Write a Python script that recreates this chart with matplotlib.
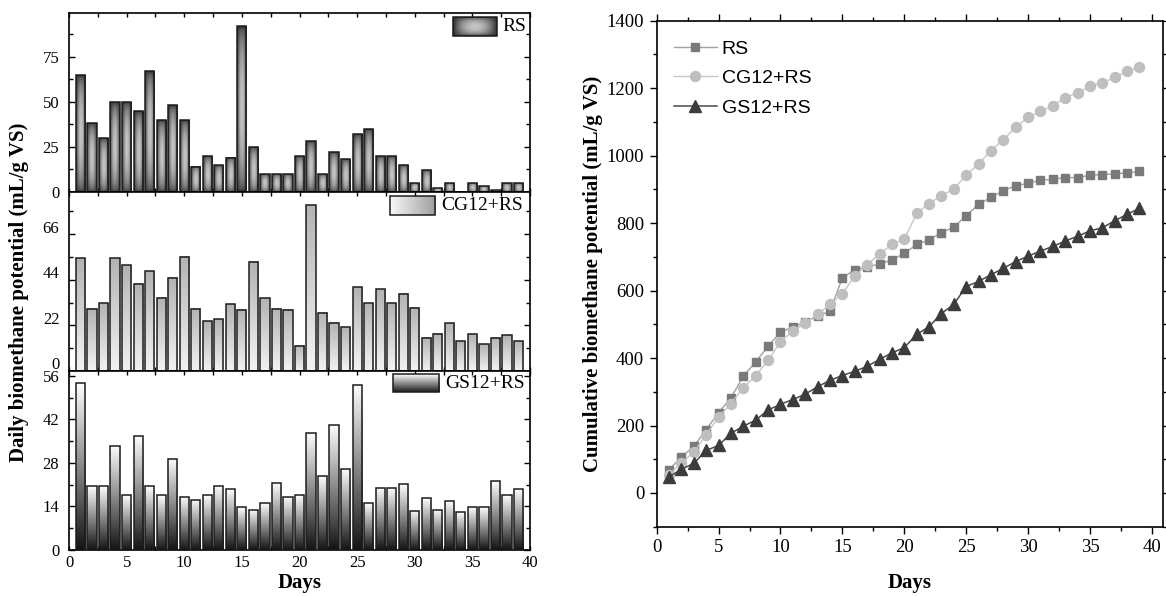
import numpy as np
import matplotlib
matplotlib.use("Agg")
import matplotlib.pyplot as plt
from matplotlib.image import BboxImage
from matplotlib.transforms import Bbox, TransformedBbox, ScaledTranslation
from matplotlib.patches import Rectangle
from matplotlib.ticker import MultipleLocator, FixedLocator

plt.rcParams['font.family'] = ['Liberation Serif', 'DejaVu Serif']

days = list(range(1, 40))

# daily biomethane potential (mL/g VS)
rs_daily = [65, 38, 30, 50, 50, 45, 67, 40, 48, 40,
            14, 20, 15, 19, 92, 25, 10, 10, 10, 20,
            28, 10, 22, 18, 32, 35, 20, 20, 15, 5,
            12, 2, 5, 0, 5, 3, 1, 5, 5]
cg_daily = [54.3, 30.1, 32.7, 54.3, 51.0, 42.2, 48.1, 35.3, 45.1, 55.2,
            30.1, 24.0, 25.1, 32.2, 29.6, 52.7, 35.1, 30.1, 29.6, 12.1,
            80.0, 28.2, 23.2, 21.1, 40.3, 32.7, 39.6, 32.7, 37.2, 30.6,
            16.1, 18.0, 23.0, 14.2, 17.6, 13.0, 16.1, 17.1, 14.2]
gs_daily = [53.6, 20.5, 20.5, 33.6, 17.6, 36.6, 20.5, 17.6, 29.3, 17.1,
            16.2, 17.6, 20.5, 19.6, 13.7, 13.0, 15.1, 21.5, 17.1, 17.6,
            37.7, 23.7, 40.2, 26.2, 53.1, 15.1, 20.1, 20.1, 21.1, 12.7,
            16.7, 13.0, 15.6, 12.1, 13.7, 13.7, 22.1, 17.6, 19.6]

# cumulative biomethane potential (mL/g VS)
rs_cum = [69, 107, 138, 188, 238, 282, 346, 389, 435, 477,
          492, 507, 524, 539, 638, 661, 671, 678, 691, 710,
          737, 750, 772, 788, 822, 856, 876, 896, 911, 918,
          927, 930, 935, 935, 942, 944, 946, 949, 953]
cg_cum = [54, 89, 121, 173, 225, 265, 312, 348, 393, 448,
          480, 503, 530, 559, 591, 643, 677, 708, 737, 752,
          829, 858, 881, 901, 942, 975, 1015, 1047, 1084, 1114,
          1131, 1148, 1172, 1186, 1206, 1216, 1232, 1250, 1262]
gs_cum = [48, 70, 88, 126, 141, 177, 198, 216, 246, 263,
          277, 293, 315, 334, 348, 361, 375, 396, 415, 431,
          470, 493, 532, 559, 612, 627, 647, 666, 686, 702,
          717, 731, 747, 761, 777, 786, 807, 826, 844]

series_names = ["RS", "CG12+RS", "GS12+RS"]


# ---- gradient fills -------------------------------------------------------
def box_fill(nx=32, ny=96):
    u = np.linspace(0, 1, nx)
    v = np.linspace(0, 1, ny)
    h = np.sin(np.pi * u) ** 0.8
    k = np.sin(np.pi * v) ** 0.45
    return 0.17 + 0.6 * np.outer(k, h)


def vertical_fill(top, bottom, ny=96):
    col = np.linspace(top, bottom, ny)[:, None]
    return np.repeat(col, 2, axis=1)


def horizontal_fill(left, right, nx=64):
    row = np.linspace(left, right, nx)[None, :]
    return np.repeat(row, 2, axis=0)


def paint(ax, bbox, transform, data, zorder=2):
    img = BboxImage(TransformedBbox(bbox, transform), cmap="gray",
                    norm=plt.Normalize(0, 1), interpolation="bilinear",
                    origin="upper", zorder=zorder)
    img.set_data(data)
    ax.add_artist(img)


fig = plt.figure(figsize=(11.66, 5.96), dpi=100)
W, H = 1166.0, 596.0

# ---- left: three stacked daily bar panels ----------------------------------
left_x0, left_x1 = 69.0, 530.0
top_px, bot_px = 12.7, 550.0
ph = (bot_px - top_px) / 3.0

panel_cfg = [
    (rs_daily, 99.5, 25, 12.5, box_fill(), box_fill(64, 24)),
    (cg_daily, 86.5, 22, 11, vertical_fill(0.70, 0.95), horizontal_fill(0.97, 0.62)),
    (gs_daily, 57.6, 14, 7, vertical_fill(0.99, 0.08), vertical_fill(0.99, 0.12, 32)),
]
legend_boxes = [
    (0.833, 0.870, 0.928, 0.976, 0.941),
    (0.696, 0.870, 0.794, 0.976, 0.808),
    (0.703, 0.881, 0.803, 0.981, 0.816),
]

axes_left = []
for i, (vals, ytop, major, minor, fill, leg_fill) in enumerate(panel_cfg):
    ax_top = top_px + i * ph
    ax = fig.add_axes([left_x0 / W, 1 - (ax_top + ph) / H,
                       (left_x1 - left_x0) / W, ph / H])
    axes_left.append(ax)
    bars = ax.bar(days, vals, width=0.8, facecolor="none",
                  edgecolor="#1c1c1c", linewidth=1.1, zorder=3)
    for b in bars:
        if b.get_height() > 0:
            paint(ax, b.get_bbox(), ax.transData, fill)
    # legend swatch + label
    lx0, ly0, lx1, ly1, tx = legend_boxes[i]
    paint(ax, Bbox.from_extents(lx0, ly0, lx1, ly1), ax.transAxes, leg_fill, zorder=4)
    ax.add_patch(Rectangle((lx0, ly0), lx1 - lx0, ly1 - ly0, transform=ax.transAxes,
                           facecolor="none", edgecolor="#1c1c1c", linewidth=1.1, zorder=5))
    ax.text(tx, (ly0 + ly1) / 2, series_names[i], transform=ax.transAxes,
            ha="left", va="center", fontsize=14, zorder=5)

    ax.set_xlim(0, 40)
    ax.set_ylim(0, ytop)
    ax.xaxis.set_major_locator(MultipleLocator(5))
    ax.xaxis.set_minor_locator(MultipleLocator(2.5))
    ax.yaxis.set_major_locator(FixedLocator(np.arange(0, ytop, major)))
    ax.yaxis.set_minor_locator(FixedLocator(np.arange(0, ytop, minor)))
    ax.tick_params(which="both", direction="in", top=True, right=True,
                   labelsize=12, width=1.0, pad=7)
    ax.tick_params(axis="y", which="major", length=4.3)
    ax.tick_params(axis="y", which="minor", length=3.0)
    ax.tick_params(axis="x", which="both", length=3.0, pad=3.5)
    for s in ax.spines.values():
        s.set_linewidth(1.2)
    if i < 2:
        ax.tick_params(axis="x", labelbottom=False)

ax_rs, ax_cg, ax_gs = axes_left
off = ScaledTranslation(0, 7.5 / 100, fig.dpi_scale_trans)
for lab in ax_cg.get_yticklabels():
    lab.set_transform(lab.get_transform() + off)

ax_gs.set_xlabel("Days", fontsize=15, fontweight="bold")
ax_gs.xaxis.set_label_coords(0.5, (bot_px - 588) / ph)
ax_gs.xaxis.label.set_va("baseline")

ax_cg.set_ylabel("Daily biomethane potential (mL/g VS)", fontsize=15, fontweight="bold")
ax_cg.yaxis.label.set_va("center")
ax_cg.yaxis.set_label_coords((19 - left_x0) / (left_x1 - left_x0),
                             (top_px + 2 * ph - 292) / ph)

# ---- right: cumulative curves ----------------------------------------------
rx0, rx1, ry0, ry1 = 656.7, 1163.0, 20.7, 526.7
axr = fig.add_axes([rx0 / W, 1 - ry1 / H, (rx1 - rx0) / W, (ry1 - ry0) / H])
axr.plot(days, rs_cum, color="#a0a0a0", lw=1.0, marker="s", ms=6,
         mfc="#7a7a7a", mec="#7a7a7a", label=series_names[0], zorder=3)
axr.plot(days, cg_cum, color="#c6c6c6", lw=1.0, marker="o", ms=7.2,
         mfc="#bfbfbf", mec="#bfbfbf", label=series_names[1], zorder=4)
axr.plot(days, gs_cum, color="#4a4a4a", lw=1.1, marker="^", ms=8.4,
         mfc="#3c3c3c", mec="#3c3c3c", label=series_names[2], zorder=5)
axr.set_xlim(0, 40.9)
axr.set_ylim(-100, 1400)
axr.xaxis.set_major_locator(MultipleLocator(5))
axr.xaxis.set_minor_locator(MultipleLocator(2.5))
axr.yaxis.set_major_locator(MultipleLocator(200))
axr.yaxis.set_minor_locator(MultipleLocator(100))
axr.tick_params(which="both", direction="out", top=True, right=True,
                labelsize=13.5, width=1.0)
axr.tick_params(which="major", length=5.0, pad=4)
axr.tick_params(which="minor", length=3.2)
for s in axr.spines.values():
    s.set_linewidth(1.2)

axr.set_xlabel("Days", fontsize=15, fontweight="bold")
axr.xaxis.set_label_coords(0.5, (ry1 - 588) / (ry1 - ry0))
axr.xaxis.label.set_va("baseline")
axr.set_ylabel("Cumulative biomethane potential (mL/g VS)", fontsize=15, fontweight="bold")
axr.yaxis.label.set_va("center")
axr.yaxis.set_label_coords((593 - rx0) / (rx1 - rx0), 0.5)

axr.legend(loc="upper left", bbox_to_anchor=(0.034, 0.962), frameon=False,
           borderpad=0, borderaxespad=0, handlelength=2.2, handletextpad=0.25,
           labelspacing=0.62, numpoints=1,
           prop={"family": ["Liberation Sans", "DejaVu Sans"], "size": 14})

fig.savefig("out.png", dpi=100)
